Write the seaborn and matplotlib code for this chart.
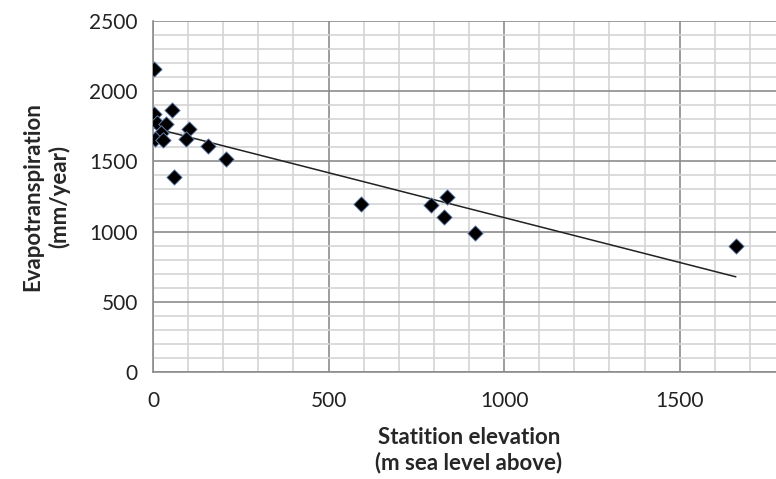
import numpy as np
import pandas as pd
import seaborn as sns
import matplotlib.pyplot as plt
from matplotlib.ticker import MultipleLocator

# station elevation (m) and evapotranspiration (mm/year)
elevation = [3, 3, 54, 11, 37, 23, 7, 28, 103, 95, 157, 209, 59,
             592, 793, 836, 829, 917, 1660]
evapo = [2158, 1838, 1866, 1776, 1766, 1700, 1657, 1652, 1731, 1657, 1610, 1517, 1391,
         1197, 1187, 1244, 1104, 990, 897]

df = pd.DataFrame({"elevation": elevation, "evapo": evapo})

sns.set_style("white")
plt.rcParams["font.family"] = ["Lato", "DejaVu Sans"]

fig = plt.figure(figsize=(7.76, 4.79), dpi=100)
ax = fig.add_axes([153 / 776, 107 / 479, 632 / 776, 351 / 479])

# gridlines (minor every 100, major every 500)
ax.xaxis.set_major_locator(MultipleLocator(500))
ax.xaxis.set_minor_locator(MultipleLocator(100))
ax.yaxis.set_major_locator(MultipleLocator(500))
ax.yaxis.set_minor_locator(MultipleLocator(100))
ax.grid(which="minor", color="#d4d4d4", linewidth=1.2)
ax.grid(which="major", color="#8c8c8c", linewidth=1.2)
ax.set_axisbelow(True)

sns.regplot(data=df, x="elevation", y="evapo", scatter=False, ci=None,
            truncate=True, color="#222222", line_kws={"linewidth": 1.1}, ax=ax)
sns.scatterplot(data=df, x="elevation", y="evapo", marker="D", s=62,
                color="black", edgecolor="#6f8fc0", linewidth=0.6, zorder=4, ax=ax)

ax.set_xlim(0, 1800)
ax.set_ylim(0, 2500)

for side in ["top", "right"]:
    ax.spines[side].set_visible(False)
for side in ["left", "bottom"]:
    ax.spines[side].set_color("#8c8c8c")
    ax.spines[side].set_linewidth(1.2)

ax.tick_params(which="major", direction="out", length=6, width=1.2,
               color="#8c8c8c", labelsize=15, labelcolor="#222222")
ax.tick_params(axis="y", pad=5)
ax.tick_params(axis="x", pad=8)
ax.tick_params(which="minor", length=0)
ax.set_xticks([0, 500, 1000, 1500])

ax.set_xlabel("Statition elevation\n(m sea level above)", fontsize=16,
              fontweight="bold", labelpad=11, linespacing=1.25)
ax.set_ylabel("Evapotranspiration\n(mm/year)", fontsize=16,
              fontweight="bold", labelpad=14, linespacing=1.25)

fig.savefig("out.png", dpi=100)
